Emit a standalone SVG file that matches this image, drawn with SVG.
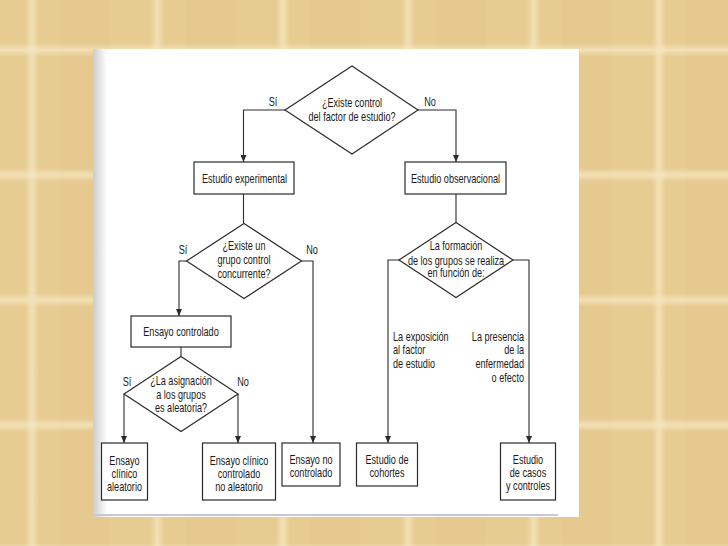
<svg xmlns="http://www.w3.org/2000/svg" width="728" height="546" viewBox="0 0 728 546">
<style>
.t{font-family:"Liberation Sans",Arial,sans-serif;font-size:12px;fill:#1a1a1a;text-anchor:middle}
.s{text-anchor:start}
.e{text-anchor:end}
.n{fill:#fff;stroke:#2b2b2b;stroke-width:1.2}
.c{fill:none;stroke:#2b2b2b;stroke-width:1.1}
</style>
<defs>
<linearGradient id="vs" x1="0" x2="1" y1="0" y2="0">
<stop offset="0" stop-color="#f6e7c2" stop-opacity="0"/>
<stop offset="0.5" stop-color="#f6e7c2" stop-opacity="0.75"/>
<stop offset="1" stop-color="#f6e7c2" stop-opacity="0"/>
</linearGradient>
<linearGradient id="hs" x1="0" x2="0" y1="0" y2="1">
<stop offset="0" stop-color="#f6e7c2" stop-opacity="0"/>
<stop offset="0.5" stop-color="#f6e7c2" stop-opacity="0.75"/>
<stop offset="1" stop-color="#f6e7c2" stop-opacity="0"/>
</linearGradient>
<pattern id="plaid" patternUnits="userSpaceOnUse" x="0" y="0" width="125.4" height="125">
<rect width="125.4" height="125" fill="#e7cc92"/>
<rect x="60" y="0" width="50" height="125" fill="#e3c68a" opacity="0.5"/>
<rect x="25" y="0" width="14" height="125" fill="url(#vs)"/>
<rect x="0" y="43" width="125.4" height="14" fill="url(#hs)"/>
</pattern>
<linearGradient id="edge" x1="0" x2="1" y1="0" y2="0">
<stop offset="0" stop-color="#cbcbcb"/>
<stop offset="1" stop-color="#ffffff"/>
</linearGradient>
<marker id="ah" markerUnits="userSpaceOnUse" markerWidth="7" markerHeight="6" refX="7" refY="3" orient="auto">
<path d="M0,0 L7,3 L0,6 z" fill="#2b2b2b"/>
</marker>
</defs>
<rect width="728" height="546" fill="url(#plaid)"/>
<g id="page">
<rect x="93" y="49" width="486" height="468" fill="#ffffff"/>
<rect x="93" y="49" width="14" height="468" fill="url(#edge)"/>
<rect x="93" y="514" width="465" height="2" fill="#c9c9c9"/>
</g>
<g id="connectors">
<path class="c" d="M285,110 H243.5 V162" marker-end="url(#ah)"/>
<path class="c" d="M418,110 H456 V162" marker-end="url(#ah)"/>
<path class="c" d="M243.5,194 V223.5"/>
<path class="c" d="M186.5,261 H179 V316" marker-end="url(#ah)"/>
<path class="c" d="M301.5,261 H313 V443" marker-end="url(#ah)"/>
<path class="c" d="M181,347 V356.5"/>
<path class="c" d="M124,394 V443" marker-end="url(#ah)"/>
<path class="c" d="M238,394 V443" marker-end="url(#ah)"/>
<path class="c" d="M456,194 V222.5"/>
<path class="c" d="M399,260 H388 V443" marker-end="url(#ah)"/>
<path class="c" d="M513,260 H529 V443" marker-end="url(#ah)"/>
</g>
<g id="q1">
<polygon class="n" points="352,66 418,110 352,154 285,110"/>
<text class="t" transform="translate(352,106.5) scale(0.76,1)"><tspan x="0">¿Existe control</tspan><tspan x="0" dy="14.5">del factor de estudio?</tspan></text>
<text class="t" transform="translate(273,106) scale(0.76,1)">Sí</text>
<text class="t" transform="translate(430,106) scale(0.76,1)">No</text>
</g>
<g id="exp">
<rect class="n" x="194" y="162" width="100" height="32"/>
<text class="t" transform="translate(244.5,182.5) scale(0.76,1)">Estudio experimental</text>
</g>
<g id="obs">
<rect class="n" x="405" y="162" width="101" height="32"/>
<text class="t" transform="translate(455.5,182.5) scale(0.76,1)">Estudio observacional</text>
</g>
<g id="q2">
<polygon class="n" points="244,223.5 301.5,261 244,298.5 186.5,261"/>
<text class="t" transform="translate(244,250) scale(0.76,1)"><tspan x="0">¿Existe un</tspan><tspan x="0" dy="14.5">grupo control</tspan><tspan x="0" dy="13.5">concurrente?</tspan></text>
<text class="t" transform="translate(183,254) scale(0.76,1)">Sí</text>
<text class="t" transform="translate(312,254) scale(0.76,1)">No</text>
</g>
<g id="ctrl">
<rect class="n" x="131" y="316" width="100" height="31"/>
<text class="t" transform="translate(181,335.5) scale(0.76,1)">Ensayo controlado</text>
</g>
<g id="q3">
<polygon class="n" points="181,356.5 238,394 181,431.5 124,394"/>
<text class="t" transform="translate(181,384.5) scale(0.76,1)"><tspan x="0">¿La asignación</tspan><tspan x="0" dy="14.5">a los grupos</tspan><tspan x="0" dy="13.5">es aleatoria?</tspan></text>
<text class="t" transform="translate(127,385.7) scale(0.76,1)">Sí</text>
<text class="t" transform="translate(243,385.7) scale(0.76,1)">No</text>
</g>
<g id="q4">
<polygon class="n" points="456,222.5 513,260 456,297.5 399,260"/>
<text class="t" transform="translate(456,249.7) scale(0.76,1)"><tspan x="0">La formación</tspan><tspan x="0" dy="15">de los grupos se realiza</tspan><tspan x="0" dy="12.6">en función de:</tspan></text>
</g>
<g id="lbl-expo">
<text class="t s" transform="translate(393,340.7) scale(0.76,1)"><tspan x="0">La exposición</tspan><tspan x="0" dy="13.5">al factor</tspan><tspan x="0" dy="13.8">de estudio</tspan></text>
</g>
<g id="lbl-pres">
<text class="t e" transform="translate(524,340.7) scale(0.76,1)"><tspan x="0">La presencia</tspan><tspan x="0" dy="13.5">de la</tspan><tspan x="0" dy="13.8">enfermedad</tspan><tspan x="0" dy="14">o efecto</tspan></text>
</g>
<g id="eca">
<rect class="n" x="101.5" y="443" width="46" height="57"/>
<text class="t" transform="translate(124.5,464.5) scale(0.76,1)"><tspan x="0">Ensayo</tspan><tspan x="0" dy="13.5">clínico</tspan><tspan x="0" dy="13.5">aleatorio</tspan></text>
</g>
<g id="eccna">
<rect class="n" x="202.5" y="443" width="73" height="57"/>
<text class="t" transform="translate(239,464.5) scale(0.76,1)"><tspan x="0">Ensayo clínico</tspan><tspan x="0" dy="13.5">controlado</tspan><tspan x="0" dy="13.5">no aleatorio</tspan></text>
</g>
<g id="enc">
<rect class="n" x="282" y="443" width="58" height="43"/>
<text class="t" transform="translate(311,464) scale(0.76,1)"><tspan x="0">Ensayo no</tspan><tspan x="0" dy="13.5">controlado</tspan></text>
</g>
<g id="coh">
<rect class="n" x="356.5" y="443" width="61" height="43"/>
<text class="t" transform="translate(387,464) scale(0.76,1)"><tspan x="0">Estudio de</tspan><tspan x="0" dy="13.5">cohortes</tspan></text>
</g>
<g id="cyc">
<rect class="n" x="500.5" y="443" width="55" height="57"/>
<text class="t" transform="translate(528,463.5) scale(0.76,1)"><tspan x="0">Estudio</tspan><tspan x="0" dy="13.5">de casos</tspan><tspan x="0" dy="13.5">y controles</tspan></text>
</g>
</svg>
